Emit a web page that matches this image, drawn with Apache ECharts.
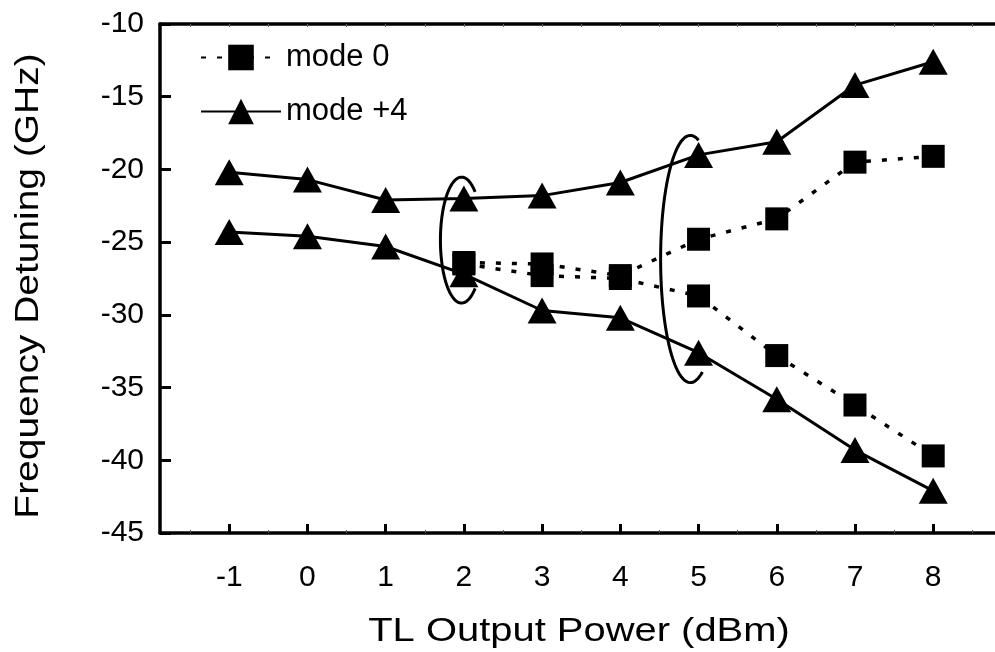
<!DOCTYPE html>
<html>
<head>
<meta charset="utf-8">
<script src="https://cdn.jsdelivr.net/npm/echarts@6/dist/echarts.min.js"></script>
<style>
html,body{margin:0;padding:0;background:#fff;}
#chart{width:995px;height:652px;}
</style>
</head>
<body>
<div id="chart"></div>
<script>
// ---- data ----
const xTickValues = [-1, 0, 1, 2, 3, 4, 5, 6, 7, 8];
const xMinorValues = [-1.5, -0.5, 0.5, 1.5, 2.5, 3.5, 4.5, 5.5, 6.5, 7.5, 8.5];
const topMinorValues = [-1.5, -1, -0.5, 0, 0.5, 1, 1.5, 2, 2.5, 3, 3.5, 4, 4.5, 5, 5.5, 6, 6.5, 7, 7.5, 8, 8.5];

const mode0X = [2, 3, 4, 5, 6, 7, 8];
const mode0Upper = [-26.4, -26.5, -27.3, -24.8, -23.4, -19.5, -19.1];
const mode0Lower = [-26.5, -27.3, -27.5, -28.7, -32.8, -36.2, -39.7];

const mode4X = [-1, 0, 1, 2, 3, 4, 5, 6, 7, 8];
const mode4Upper = [-20.2, -20.7, -22.1, -22.0, -21.8, -20.9, -19.0, -18.1, -14.2, -12.6];
const mode4Lower = [-24.3, -24.6, -25.3, -27.2, -29.7, -30.2, -32.6, -35.8, -39.3, -42.1];

// annotation ellipses (open arcs): [cx, cy, rx, ry, startDeg, endDeg] in data units
const ellipses = [
  [1.97, -24.86, 0.27, 4.33, 50, 310],
  [4.895, -26.16, 0.38, 8.5, 74, 294]
];

const yTicks = { min: -45, max: -10, interval: 5 };
const xRange = { min: -1.885, max: 8.79 };

// ---- chart ----
const FONT = "'Liberation Sans', Arial, Helvetica, sans-serif";
const chart = echarts.init(document.getElementById('chart'), null, { renderer: 'canvas' });

function pairs(xs, ys) { return xs.map((x, i) => [x, ys[i]]); }

const mode0Style = {
  type: 'line', name: 'mode 0', xAxisIndex: 0, yAxisIndex: 0,
  symbol: 'rect', symbolSize: 23,
  itemStyle: { color: '#000' },
  lineStyle: { color: '#000', width: 3.5, type: [5, 11] },
  z: 4, animation: false
};
const mode4Style = {
  type: 'line', name: 'mode +4', xAxisIndex: 0, yAxisIndex: 0,
  symbol: 'triangle', symbolSize: [29, 26],
  itemStyle: { color: '#000' },
  lineStyle: { color: '#000', width: 3, type: 'solid' },
  z: 3, animation: false
};

const option = {
  backgroundColor: '#fff',
  animation: false,
  grid: { left: 160, top: 24, right: 0, bottom: 119, containLabel: false },
  legend: {
    data: ['mode 0', 'mode +4'],
    orient: 'vertical',
    left: 195, top: 37,
    itemWidth: 80, itemHeight: 32, itemGap: 23,
    textStyle: { fontFamily: FONT, fontSize: 31, color: '#000' },
    selectedMode: false
  },
  xAxis: [
    {
      type: 'value', position: 'bottom', min: xRange.min, max: xRange.max,
      axisLine: { show: true, onZero: false, lineStyle: { color: '#000', width: 3.5 } },
      axisTick: { show: true, inside: true, length: 9, customValues: xTickValues, lineStyle: { color: '#000', width: 3 } },
      axisLabel: { show: true, customValues: xTickValues, margin: 30, fontFamily: FONT, fontSize: 30, color: '#000' },
      splitLine: { show: false }
    },
    {
      type: 'value', position: 'bottom', min: xRange.min, max: xRange.max,
      axisLine: { show: false },
      axisTick: { show: true, inside: true, length: 3, customValues: xMinorValues, lineStyle: { color: '#555', width: 1 } },
      axisLabel: { show: false },
      splitLine: { show: false }
    },
    {
      type: 'value', position: 'top', min: xRange.min, max: xRange.max,
      axisLine: { show: true, onZero: false, lineStyle: { color: '#000', width: 3.5 } },
      axisTick: { show: true, inside: true, length: 3, customValues: topMinorValues, lineStyle: { color: '#666', width: 1 } },
      axisLabel: { show: false },
      splitLine: { show: false }
    }
  ],
  yAxis: [
    {
      type: 'value', position: 'left', min: yTicks.min, max: yTicks.max, interval: yTicks.interval,
      axisLine: { show: true, onZero: false, lineStyle: { color: '#000', width: 3.5 } },
      axisTick: { show: true, inside: true, length: 11, lineStyle: { color: '#000', width: 3 } },
      axisLabel: { show: true, margin: 16, fontFamily: FONT, fontSize: 30, color: '#000' },
      splitLine: { show: false }
    }
  ],
  graphic: [
    {
      type: 'text', x: 579, y: 632, scaleX: 1.21,
      style: { text: 'TL Output Power (dBm)', font: '33px ' + FONT, fill: '#000', textAlign: 'center', textVerticalAlign: 'middle' }
    },
    {
      type: 'text', x: 29, y: 286, rotation: Math.PI / 2, scaleX: 1.18,
      style: { text: 'Frequency Detuning (GHz)', font: '33px ' + FONT, fill: '#000', textAlign: 'center', textVerticalAlign: 'middle' }
    }
  ],
  series: [
    Object.assign({}, mode4Style, { data: pairs(mode4X, mode4Upper) }),
    Object.assign({}, mode4Style, { data: pairs(mode4X, mode4Lower) }),
    Object.assign({}, mode0Style, { data: pairs(mode0X, mode0Upper) }),
    Object.assign({}, mode0Style, { data: pairs(mode0X, mode0Lower) }),
    {
      type: 'custom', name: 'ellipses', xAxisIndex: 0, yAxisIndex: 0,
      data: ellipses, silent: true, z: 5,
      renderItem: function (params, api) {
        const cx = api.value(0), cy = api.value(1), rx = api.value(2), ry = api.value(3);
        const a0 = api.value(4), a1 = api.value(5);
        const c = api.coord([cx, cy]);
        const s = api.size([rx, ry]);
        const pts = [];
        const n = 80;
        for (let i = 0; i <= n; i++) {
          const t = (a0 + (a1 - a0) * i / n) * Math.PI / 180;
          pts.push([c[0] + s[0] * Math.cos(t), c[1] - s[1] * Math.sin(t)]);
        }
        return {
          type: 'polyline',
          shape: { points: pts },
          style: { stroke: '#000', lineWidth: 3, fill: null }
        };
      }
    }
  ]
};
chart.setOption(option);
</script>
</body>
</html>
